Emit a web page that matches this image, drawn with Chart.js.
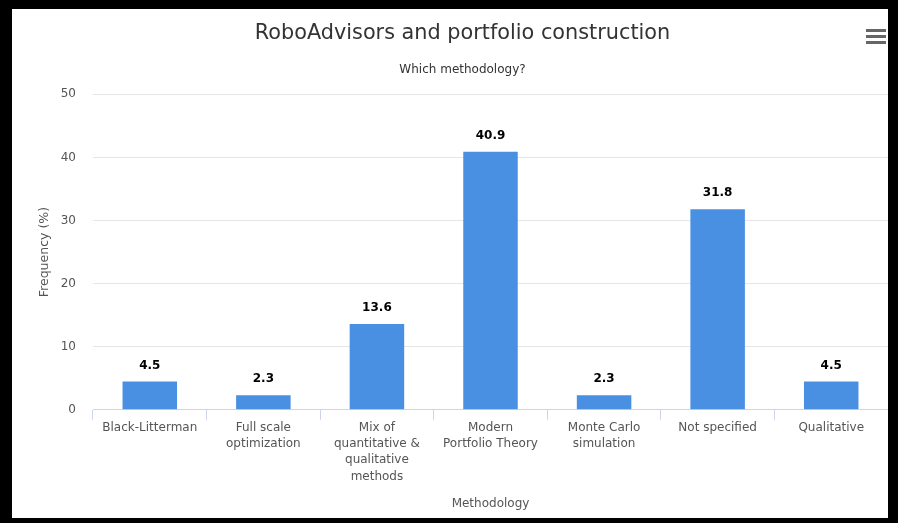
<!DOCTYPE html>
<html>
<head>
<meta charset="utf-8">
<script src="https://cdn.jsdelivr.net/npm/chart.js@4"></script>
<style>
  html, body { margin: 0; padding: 0; background: #000; width: 898px; height: 523px; overflow: hidden; }
  #wrap { position: absolute; left: 12px; top: 9px; width: 876px; height: 509px; background: #fff; }
  canvas { display: block; }
</style>
</head>
<body>
<div id="wrap"><canvas id="c" width="876" height="509"></canvas></div>
<script>
const categories = [
  "Black-Litterman",
  ["Full scale", "optimization"],
  ["Mix of", "quantitative &", "qualitative", "methods"],
  ["Modern", "Portfolio Theory"],
  ["Monte Carlo", "simulation"],
  "Not specified",
  "Qualitative"
];
const frequency = [4.5, 2.3, 13.6, 40.9, 2.3, 31.8, 4.5];
const yTicks = [0, 10, 20, 30, 40, 50];
const titleText = "RoboAdvisors and portfolio construction";
const subtitleText = "Which methodology?";
const xTitle = "Methodology";
const yTitle = "Frequency (%)";

const FONT = "'DejaVu Sans', 'Open Sans', sans-serif";

const valueLabels = {
  id: 'valueLabels',
  afterDatasetsDraw(chart) {
    const ctx = chart.ctx;
    const meta = chart.getDatasetMeta(0);
    ctx.save();
    ctx.font = "bold 12px " + FONT;
    ctx.fillStyle = "#000";
    ctx.textAlign = "center";
    ctx.textBaseline = "middle";
    meta.data.forEach((bar, i) => {
      ctx.fillText(String(chart.data.datasets[0].data[i]), bar.x, bar.y - 16);
    });
    ctx.restore();
  }
};

const menuIcon = {
  id: 'menuIcon',
  afterDraw(chart) {
    const ctx = chart.ctx;
    ctx.save();
    ctx.fillStyle = "#666";
    [20, 26, 32].forEach(y => ctx.fillRect(854, y, 20, 3));
    ctx.restore();
  }
};

new Chart(document.getElementById('c'), {
  type: 'bar',
  data: {
    labels: categories,
    datasets: [{
      data: frequency,
      backgroundColor: '#4a90e2',
      categoryPercentage: 0.8,
      barPercentage: 0.6
    }]
  },
  options: {
    responsive: false,
    animation: false,
    devicePixelRatio: 1,
    layout: { padding: { left: 25, right: 0, top: 0, bottom: 7 } },
    plugins: {
      legend: { display: false },
      tooltip: { enabled: false },
      title: {
        display: true, text: titleText, color: '#333',
        font: { family: FONT, size: 20.8, weight: 'normal' },
        padding: { top: 12, bottom: 17 }
      },
      subtitle: {
        display: true, text: subtitleText, color: '#333',
        font: { family: FONT, size: 12, weight: 'normal' },
        padding: { top: 0, bottom: 17 }
      }
    },
    scales: {
      x: {
        offset: true,
        grid: { display: true, drawOnChartArea: false, color: '#ccd6eb', tickLength: 10, offset: true },
        border: { display: true, color: '#ccd6eb' },
        ticks: {
          color: '#555', font: { family: FONT, size: 12, lineHeight: 1.35 }, padding: 0,
          maxRotation: 0, autoSkip: false
        },
        title: {
          display: true, text: xTitle, color: '#555',
          font: { family: FONT, size: 12 }, padding: { top: 12, bottom: 0 }
        }
      },
      y: {
        min: 0, max: 50,
        afterBuildTicks(scale) { scale.ticks = yTicks.map(v => ({ value: v })); },
        afterFit(scale) { scale.width = 56; },
        grid: { color: '#e6e6e6', tickLength: 0, drawTicks: false },
        border: { display: false },
        ticks: {
          color: '#555', font: { family: FONT, size: 12 }, padding: 17
        },
        title: {
          display: true, text: yTitle, color: '#555',
          font: { family: FONT, size: 12.5 }, padding: { top: 0, bottom: 4 }
        }
      }
    }
  },
  plugins: [valueLabels, menuIcon]
});
</script>
</body>
</html>
